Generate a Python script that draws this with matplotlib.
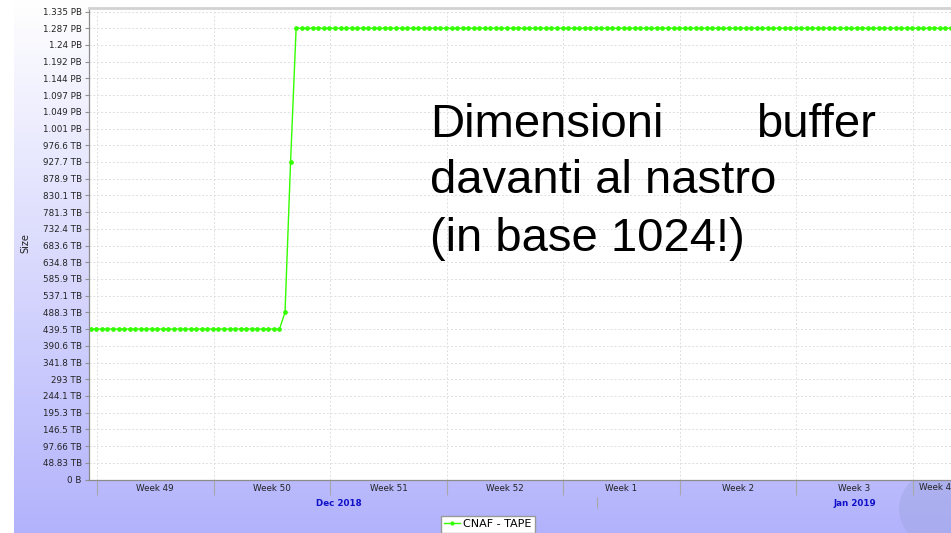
import matplotlib
matplotlib.use('Agg')
import matplotlib.pyplot as plt
from matplotlib.patches import Circle
from matplotlib.lines import Line2D
import numpy as np
import pandas as pd

# buffer size in TB (base 1024 labels, as shown on the chart), one sample every 8h
low_level = 439.5
ramp_values = [488.3, 927.7]
high_level = 1318.4          # 1.287 PB
n_low = 35
n_high = 119
sample_start = '2018-12-01 15:00'
sample_every = '8h'

size_tb = [low_level] * n_low + ramp_values + [high_level] * n_high
times = pd.date_range(sample_start, periods=len(size_tb), freq=sample_every)

ytick_labels = ['0 B', '48.83 TB', '97.66 TB', '146.5 TB', '195.3 TB', '244.1 TB',
                '293 TB', '341.8 TB', '390.6 TB', '439.5 TB', '488.3 TB', '537.1 TB',
                '585.9 TB', '634.8 TB', '683.6 TB', '732.4 TB', '781.3 TB', '830.1 TB',
                '878.9 TB', '927.7 TB', '976.6 TB', '1.001 PB', '1.049 PB', '1.097 PB',
                '1.144 PB', '1.192 PB', '1.24 PB', '1.287 PB', '1.335 PB']
ytick_step = 50000 / 1024          # 48.83 TB

week_starts = pd.date_range('2018-12-02', periods=8, freq='7D')
week_labels = ['Week 49', 'Week 50', 'Week 51', 'Week 52', 'Week 1', 'Week 2', 'Week 3', 'Week 4']
month_starts = pd.to_datetime(['2018-12-01', '2019-01-01', '2019-02-01'])
month_labels = ['Dec 2018', 'Jan 2019']

x_left = pd.Timestamp('2018-12-01 12:00')
x_right = pd.Timestamp('2019-01-22 07:00')

W, H = 951, 533
fig = plt.figure(figsize=(W / 100, H / 100), dpi=100)
fig.patch.set_facecolor('white')

# gradient background (white -> lavender), leaving a white strip on the left
bg = fig.add_axes([14 / W, 0, 1 - 14 / W, 1], zorder=-10)
grad = np.linspace(0, 1, 256)[:, None]
top = np.array([1.0, 1.0, 1.0])
bot = np.array([0.70, 0.70, 0.99])
img = top[None, None, :] * (1 - grad[:, :, None]) + bot[None, None, :] * grad[:, :, None]
bg.imshow(img, aspect='auto', extent=[0, 1, 0, 1])
bg.set_axis_off()

# faint globe watermark behind the plot area
fig.patches.append(Circle((9.36, 0.24), 0.37, transform=fig.dpi_scale_trans,
                          facecolor='#9aa4dc', edgecolor='none', alpha=0.4,
                          zorder=-5))

left = 88.7 / W
ax = fig.add_axes([left, (H - 479.5) / H, 1 - left, (479.5 - 7.5) / H])
ax.set_facecolor('white')

ax.plot(times, size_tb, color='#33ff00', lw=1.0, marker='o', markersize=3.4,
        markeredgewidth=0, label='CNAF - TAPE')

ax.set_xlim(x_left, x_right)
ax.set_ylim(0, 28.24 * ytick_step)

# y axis
ax.set_yticks(np.arange(len(ytick_labels)) * ytick_step)
ax.set_yticklabels(ytick_labels)
ax.tick_params(axis='y', length=3, width=0.8, color='#909090', pad=2,
               labelsize=6.3, labelcolor='#222222')
ax.set_ylabel('Size', fontsize=7, color='#222222')
ax.yaxis.set_label_coords(-0.068, 0.5)

# x axis: week boundaries as long ticks, week names centred in between
ax.set_xticks(week_starts)
ax.set_xticklabels([])
ax.tick_params(axis='x', which='major', length=10.8, width=0.8, color='#a8a8a8')
mids = week_starts + pd.Timedelta(hours=84)
inside = mids <= x_right
ax.set_xticks(mids[inside], minor=True)
ax.set_xticklabels([l for l, ok in zip(week_labels, inside) if ok], minor=True)
ax.tick_params(axis='x', which='minor', length=0, pad=3.5, labelsize=6.3,
               labelcolor='#222222')
for lab, ok in zip(week_labels, inside):
    if not ok:
        ax.text(1.0, -0.018, lab, transform=ax.transAxes, ha='right', va='center',
                fontsize=6.3, color='#222222', clip_on=False)

ax.grid(True, which='major', color='#dedede', lw=0.7, linestyle=(0, (2, 2)))

for s in ['left', 'bottom']:
    ax.spines[s].set_color('#8c8c8c')
    ax.spines[s].set_linewidth(0.9)
ax.spines['top'].set_color('#d2d2d2')
ax.spines['top'].set_linewidth(2)
ax.spines['right'].set_visible(False)

# second row: months
axm = fig.add_axes([left, (H - 497) / H, 1 - left, 1e-4])
axm.set_xlim(x_left, x_right)
axm.patch.set_visible(False)
for s in axm.spines.values():
    s.set_visible(False)
axm.set_yticks([])
inner = month_starts[(month_starts > x_left) & (month_starts < x_right)]
axm.set_xticks(inner)
axm.set_xticklabels([])
axm.tick_params(axis='x', which='major', length=8, width=0.8, color='#a8a8a8')
mmids = month_starts[:-1] + (month_starts[1:] - month_starts[:-1]) / 2
axm.set_xticks(mmids, minor=True)
axm.set_xticklabels(month_labels, minor=True)
axm.tick_params(axis='x', which='minor', length=0, pad=1.5, labelsize=6.3,
                labelcolor='#1010c8')
for t in axm.get_xticklabels(minor=True):
    t.set_fontweight('bold')

# legend
handle = Line2D([], [], color='#33ff00', lw=1.0, marker='o', markersize=3.0,
                markeredgewidth=0)
fig.legend([handle], ['CNAF - TAPE'], loc='upper center',
           bbox_to_anchor=(488 / W, 1 - 516 / H), fontsize=8, frameon=True,
           fancybox=False, edgecolor='#999999', framealpha=1, handlelength=1.4,
           handletextpad=0.3, borderpad=0.3, borderaxespad=0)

# overlay text
big = dict(fontsize=34, family='Liberation Sans', color='black', va='baseline')
fig.text(430 / W, 1 - 137 / H, 'Dimensioni', ha='left', **big)
fig.text(876 / W, 1 - 137 / H, 'buffer', ha='right', **big)
fig.text(430 / W, 1 - 193 / H, 'davanti al nastro', ha='left', **big)
fig.text(430 / W, 1 - 251 / H, '(in base 1024!)', ha='left', **big)

plt.savefig('out.png', dpi=100)
